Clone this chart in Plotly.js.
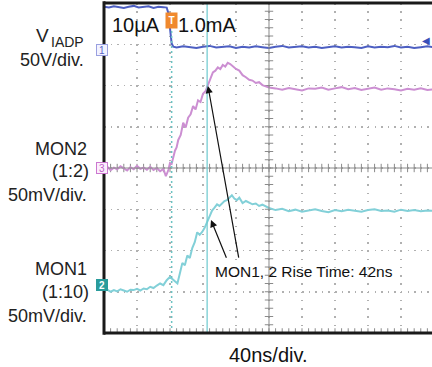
<!DOCTYPE html>
<html><head><meta charset="utf-8">
<script src="https://cdn.plot.ly/plotly-3.0.1.min.js"></script>
<style>html,body{margin:0;padding:0;background:#fff}#chart{width:432px;height:367px}</style>
</head><body><div id="chart"></div>
<script>
// Time in ns (40 ns/div), vertical values in screen divisions
const ch1_t = [0,6,12,18,24,30,36,42,48,54,60,66,72,76,78,80,82,84,88,96,104,112,120,128,136,144,152,160,168,176,184,192,200,208,216,224,232,240,248,256,264,272,280,288,296,304,312,320,328,336,344,352,360,368,376,384,392,400];
const ch1_v = [3.91,3.89,3.92,3.90,3.88,3.91,3.93,3.89,3.90,3.92,3.88,3.91,3.90,3.89,3.75,3.35,3.02,2.94,2.92,2.95,2.93,2.91,2.94,2.96,2.92,2.93,2.95,2.91,2.94,2.92,2.95,2.93,2.91,2.94,2.96,2.92,2.93,2.95,2.92,2.94,2.91,2.93,2.95,2.92,2.94,2.93,2.91,2.95,2.92,2.94,2.93,2.96,2.92,2.94,2.91,2.93,2.95,2.93];

const ch3_t = [0,4,8,12,16,20,24,28,32,36,40,44,48,52,56,60,64,68,72,75,78,80,82,84,86,88,90,93,96,99,102,105,108,111,114,117,120,123,126,129,132,135,138,141,144,147,150,153,156,160,164,168,172,176,180,184,188,192,196,200,208,216,224,232,240,248,256,264,272,280,288,296,304,312,320,328,336,344,352,360,368,376,384,392,400];
const ch3_v = [-0.02,0.03,-0.05,0.01,-0.03,0.04,-0.01,-0.06,0.02,-0.03,0.05,-0.02,0.01,-0.04,0.03,-0.05,0.00,-0.08,-0.02,-0.20,-0.05,0.12,0.10,0.30,0.42,0.50,0.68,0.80,1.10,0.98,1.22,1.30,1.50,1.42,1.64,1.60,1.80,1.86,2.02,2.20,2.32,2.36,2.44,2.40,2.50,2.46,2.55,2.52,2.47,2.40,2.36,2.25,2.20,2.14,2.12,2.06,2.08,2.01,1.98,1.95,1.93,1.90,1.94,1.91,1.88,1.93,1.92,1.95,1.90,1.93,1.96,1.91,1.94,1.89,1.92,1.95,1.90,1.93,1.91,1.88,1.92,1.90,1.93,1.89,1.91];

const ch2_t = [0,4,8,12,16,20,24,28,32,36,40,44,48,52,56,60,64,68,72,76,80,83,86,89,92,95,98,101,104,107,110,113,116,119,122,125,128,131,134,137,140,143,146,149,152,155,158,161,164,168,172,176,180,184,188,192,196,200,208,216,224,232,240,248,256,264,272,280,288,296,304,312,320,328,336,344,352,360,368,376,384,392,400];
const ch2_v = [-2.98,-2.95,-3.00,-2.96,-2.99,-2.94,-2.97,-3.00,-2.95,-2.96,-2.93,-2.97,-2.92,-2.94,-2.88,-2.91,-2.85,-2.80,-2.84,-2.72,-2.64,-2.70,-2.74,-2.80,-2.55,-2.30,-2.36,-2.12,-2.18,-1.94,-1.80,-1.56,-1.62,-1.55,-1.45,-1.31,-1.20,-1.03,-0.96,-0.88,-0.92,-0.86,-0.80,-0.78,-0.72,-0.66,-0.74,-0.78,-0.72,-0.85,-0.80,-0.84,-0.88,-0.86,-0.92,-0.89,-0.94,-0.97,-1.02,-0.99,-1.05,-1.01,-1.06,-1.03,-1.00,-1.04,-1.07,-1.02,-1.05,-1.01,-1.04,-1.06,-1.02,-1.00,-1.04,-1.03,-1.06,-1.01,-1.04,-1.02,-1.05,-1.03,-1.04];

const triggerT = 82;   // ns
const cursorT = 125;   // ns
const riseText = "MON1, 2 Rise Time: 42ns";
const arrowTips = [[126, 1.99], [129.7, -1.26]];
const arrowTails = [[163.6, -2.21], [149.1, -2.21]];

const XMAX = 397.6;
const F = "Liberation Sans, Arial, sans-serif";

// crosshair tick marks (graticule decoration)
const hx = [], hy = [], vx = [], vy = [], bx = [], by = [];
for (let t = 0; t <= 400; t += 8) { hx.push(t); hy.push(0); bx.push(t); by.push(-3.97); }
for (let k = -20; k <= 20; k++) { vx.push(200); vy.push(k * 0.2); }

const traces = [
  {x: hx, y: hy, mode: 'markers', marker: {symbol: 'line-ns', size: 6, line: {width: 1, color: '#8a8a8a'}}, hoverinfo: 'skip'},
  {x: vx, y: vy, mode: 'markers', marker: {symbol: 'line-ew', size: 6, line: {width: 1, color: '#8a8a8a'}}, hoverinfo: 'skip'},
  {x: bx, y: by, mode: 'markers', marker: {symbol: 'line-ns', size: 5, line: {width: 1, color: '#8a8a8a'}}, hoverinfo: 'skip'},
  {x: ch1_t, y: ch1_v, mode: 'lines', line: {color: '#4d5fc2', width: 2}},
  {x: ch3_t, y: ch3_v, mode: 'lines', line: {color: '#cc8fd2', width: 2}},
  {x: ch2_t, y: ch2_v, mode: 'lines', line: {color: '#82d0d8', width: 2}}
];

const px = p => (p - 104) / 328;   // pixel -> paper x
const py = p => (333 - p) / 330;   // pixel -> paper y

function lab(text, xp, yp, size, anchor, color) {
  return {text: text, xref: 'paper', yref: 'paper', x: px(xp), y: py(yp), xanchor: anchor, yanchor: 'middle',
          showarrow: false, borderpad: 0, font: {family: F, size: size, color: color || '#222'}};
}

const annotations = [
  lab('V', 35, 36, 19, 'left'),
  lab('IADP', 50, 42, 14, 'left'),
  lab('50V/div.', 85, 60, 18, 'right'),
  lab('MON2', 88, 149, 18, 'right'),
  lab('(1:2)', 90, 171, 18, 'right'),
  lab('50mV/div.', 88, 195, 18, 'right'),
  lab('MON1', 88, 269, 18, 'right'),
  lab('(1:10)', 90, 292, 18, 'right'),
  lab('50mV/div.', 88, 316, 18, 'right'),
  lab('10µA', 111, 25, 20, 'left', '#111'),
  lab('1.0mA', 177, 25, 20, 'left', '#111'),
  lab(riseText, 214, 271, 15.5, 'left', '#111'),
  lab('40ns/div.', 228, 355, 20, 'left', '#111'),
  // channel markers
  {text: '1', xref: 'paper', yref: 'paper', x: px(95.5), y: py(44), showarrow: false, font: {family: F, size: 10, color: '#5a64c8'},
   bordercolor: '#9aa0e0', borderwidth: 1, borderpad: 0, bgcolor: '#f2f3ff', width: 10, height: 10},
  {text: '3', xref: 'paper', yref: 'paper', x: px(95.5), y: py(168), showarrow: false, font: {family: F, size: 10, color: '#c060c8'},
   bordercolor: '#cc77d0', borderwidth: 1, borderpad: 0, bgcolor: '#fbeefc', width: 10, height: 10},
  {text: '<b>2</b>', xref: 'paper', yref: 'paper', x: px(95.5), y: py(291), showarrow: false, font: {family: F, size: 10, color: '#ffffff'},
   bordercolor: '#2a9c9c', borderwidth: 1, borderpad: 0, bgcolor: '#2a9c9c', width: 10, height: 10},
  // trigger marker
  {text: '<b>T</b>', xref: 'x', yref: 'paper', x: triggerT, y: py(12), showarrow: false, font: {family: F, size: 10, color: '#ffffff'},
   bgcolor: '#f0892e', borderpad: 1, width: 9, height: 13},
  {text: '◀', xref: 'paper', yref: 'paper', x: px(426), y: py(33), xanchor: 'center', showarrow: false, font: {family: F, size: 10, color: '#3a4fb8'}}
];
for (let i = 0; i < arrowTips.length; i++) {
  annotations.push({text: '', x: arrowTips[i][0], y: arrowTips[i][1], xref: 'x', yref: 'y',
    ax: arrowTails[i][0], ay: arrowTails[i][1], axref: 'x', ayref: 'y',
    showarrow: true, arrowhead: 2, arrowsize: 1.2, arrowwidth: 1.2, arrowcolor: '#111'});
}

const shapes = [
  // center crosshair
  {type: 'line', xref: 'x', yref: 'paper', x0: 200, x1: 200, y0: 0, y1: 1, line: {color: '#8a8a8a', width: 1}},
  {type: 'line', xref: 'paper', yref: 'y', x0: 0, x1: 1, y0: 0, y1: 0, line: {color: '#8a8a8a', width: 1}},
  // trigger position (dotted) and cursor
  {type: 'line', xref: 'x', yref: 'paper', x0: triggerT, x1: triggerT, y0: 0, y1: 0.97, line: {color: '#6cc3c3', width: 1.5, dash: '2px,3px'}},
  {type: 'line', xref: 'x', yref: 'paper', x0: cursorT, x1: cursorT, y0: 0, y1: 1, line: {color: '#6cc9cf', width: 1.2}},
  // frame
  {type: 'line', xref: 'paper', yref: 'paper', x0: 0, x1: 0, y0: -0.005, y1: 1.005, line: {color: '#1a1a1a', width: 3}},
  {type: 'line', xref: 'paper', yref: 'paper', x0: 0, x1: 1, y0: 1, y1: 1, line: {color: '#1a1a1a', width: 3}},
  {type: 'line', xref: 'paper', yref: 'paper', x0: 0, x1: 1, y0: 0, y1: 0, line: {color: '#1a1a1a', width: 3}}
];

const layout = {
  width: 432, height: 367,
  margin: {l: 104, r: 0, t: 3, b: 34, pad: 0},
  paper_bgcolor: '#ffffff', plot_bgcolor: '#ffffff',
  showlegend: false,
  xaxis: {range: [0, XMAX], tick0: 0, dtick: 40, showgrid: true, gridcolor: '#b0b0b0', gridwidth: 1.5,
          griddash: '1.5px,6.75px', zeroline: false, showticklabels: false, ticks: '', showline: false, fixedrange: true},
  yaxis: {range: [-4, 4], tick0: 0, dtick: 1, showgrid: true, gridcolor: '#b0b0b0', gridwidth: 1.5,
          griddash: '1.5px,5.1px', zeroline: false, showticklabels: false, ticks: '', showline: false, fixedrange: true},
  annotations: annotations,
  shapes: shapes
};

Plotly.newPlot('chart', traces, layout, {staticPlot: true, displayModeBar: false});
</script>
</body></html>
